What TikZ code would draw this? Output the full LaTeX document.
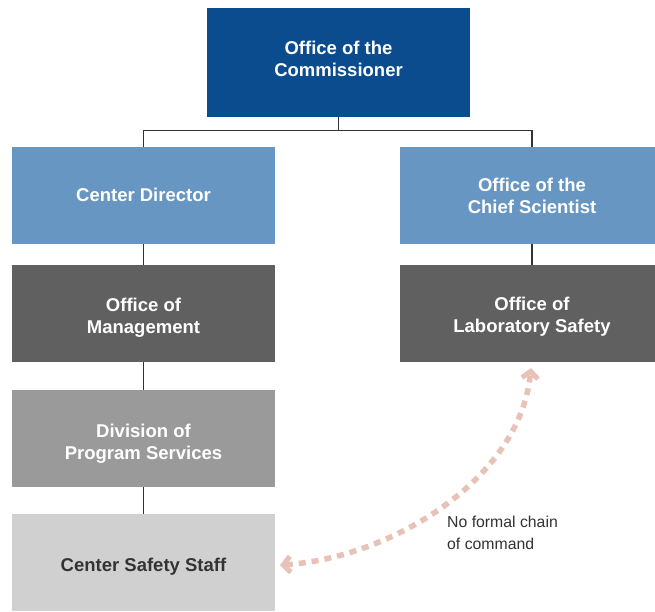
\documentclass[tikz,border=0pt]{standalone}
\usepackage{fontspec}
\setmainfont{Liberation Sans}
\usetikzlibrary{arrows.meta}
\definecolor{cblue}{HTML}{0B4C8F}
\definecolor{clblue}{HTML}{6896C3}
\definecolor{cdgray}{HTML}{606060}
\definecolor{cmgray}{HTML}{9A9A9A}
\definecolor{clgray}{HTML}{D0D0D0}
\definecolor{cpink}{HTML}{E8C2B6}
\definecolor{ctext}{HTML}{333333}
\begin{document}
\begin{tikzpicture}[x=1pt,y=-1pt,
  box/.style={draw=none, minimum width=264pt, minimum height=97pt, inner sep=0pt},
  boxtext/.style={inner sep=0pt, font=\fontsize{18.5}{22}\selectfont\bfseries, align=center, text=white},
  link/.style={draw=black!80, line width=1.2pt},
  rel/.style={draw=cpink, line width=5.5pt, dash pattern=on 7pt off 6pt,
    {Straight Barb[length=7pt,width=16pt,line width=5pt]}-{Straight Barb[length=7pt,width=16pt,line width=5pt]}}]
\clip (0,0) rectangle (655,611);
\fill[white] (0,0) rectangle (655,611);
\node[box, fill=cblue, minimum height=109pt, minimum width=263pt] (comm) at (338.5,62.5) {};
\node[box, fill=clblue, minimum width=263pt] (cd) at (143.5,195.5) {};
\node[box, fill=clblue] (cs) at (532,195.5) {};
\node[box, fill=cdgray, minimum width=263pt] (om) at (143.5,313.5) {};
\node[box, fill=cdgray] (ols) at (532,313.5) {};
\node[box, fill=cmgray, minimum width=263pt] (dps) at (143.5,438.5) {};
\node[box, fill=clgray, minimum width=263pt] (css) at (143.5,562.5) {};
\node[boxtext] (commt) at ([yshift=4pt]comm.center) {Office of the\\Commissioner};
\node[boxtext] (cdt) at ([yshift=1pt]cd.center) {Center Director};
\node[boxtext] (cst) at (cs.center) {Office of the\\Chief Scientist};
\node[boxtext] (omt) at ([yshift=-4pt]om.center) {Office of\\Management};
\node[boxtext] (olst) at ([yshift=-3pt]ols.center) {Office of\\Laboratory Safety};
\node[boxtext] (dpst) at ([yshift=-5.5pt]dps.center) {Division of\\Program Services};
\node[boxtext, text=ctext] (csst) at ([yshift=-4.5pt]css.center) {Center Safety Staff};
\node[anchor=north west, align=left, inner sep=0pt, font=\fontsize{15.8}{22}\selectfont, text=ctext] (lbl) at (447,516) {No formal chain\\of command};
\coordinate (junc) at ([yshift=-13pt]comm.south);
\draw[link] (comm.south) -- (junc);
\draw[link] (junc) -| (cd.north);
\draw[link] (junc) -| (cs.north);
\draw[link] (cd.south) -- (om.north);
\draw[link] (om.south) -- (dps.north);
\draw[link] (dps.south) -- (css.north);
\draw[link] (cs.south) -- (ols.north);
\coordinate (a1) at (531,368);
\coordinate (a2) at (280,565);
\draw[rel] (a2) .. controls (390,558) and (520,480) .. (a1);
\end{tikzpicture}
\end{document}
